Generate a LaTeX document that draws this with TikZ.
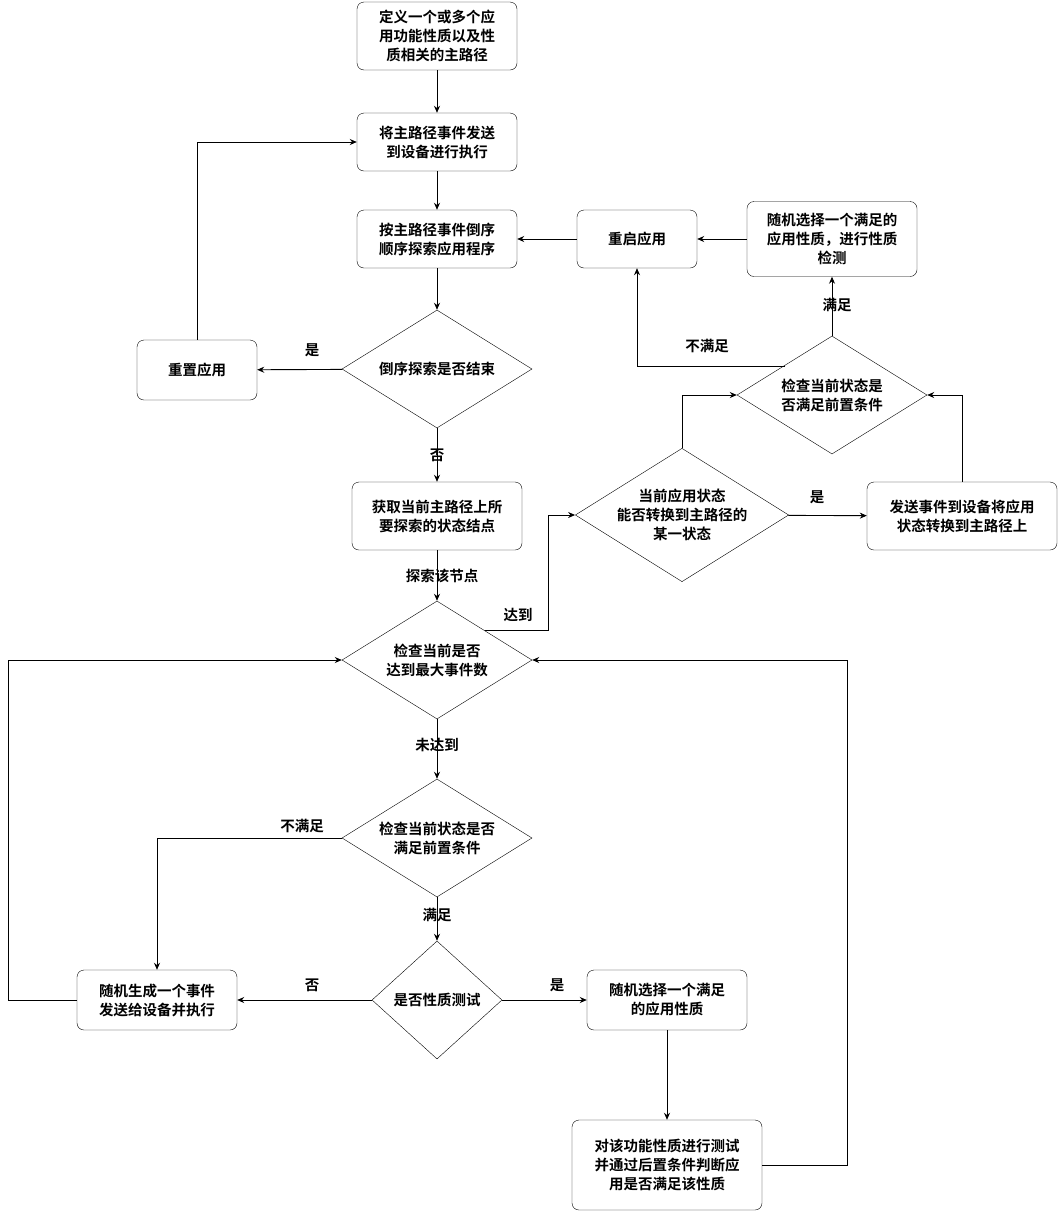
\documentclass[tikz,border=0pt]{standalone}
\usepackage{fontspec}
\setmainfont{Noto Sans CJK SC}[BoldFont={Noto Sans CJK SC Bold}]
\usetikzlibrary{shapes.geometric,arrows.meta}
\tikzset{
  box/.style={draw,rounded corners=7pt,minimum width=#1,align=center,font=\bfseries\fontsize{14.5}{19}\selectfont,inner sep=2pt},
  box/.default=160pt,
  dec/.style={draw,diamond,aspect=1.6,minimum width=190pt,minimum height=118pt,align=center,inner sep=0pt,font=\bfseries\fontsize{14.5}{19}\selectfont},
  lbl/.style={font=\bfseries\fontsize{14.5}{19}\selectfont},
  flow/.style={draw,line width=0.9pt,-{Stealth[length=7pt,width=6pt]}}
}
\begin{document}
\begin{tikzpicture}[x=1pt,y=-1pt]
\useasboundingbox (0,0) rectangle (1058,1211);
\node[box,minimum height=68pt] (def) at (437,36) {定义一个或多个应\\用功能性质以及性\\质相关的主路径};
\node[box,minimum height=58pt] (send) at (437,142) {将主路径事件发送\\到设备进行执行};
\node[box,minimum height=58pt] (rev) at (437,239) {按主路径事件倒序\\顺序探索应用程序};
\node[dec] (end) at (437,369) {倒序探索是否结束};
\node[box=120pt,minimum height=60pt] (reset) at (197,370) {重置应用};
\node[box=170pt,minimum height=68pt] (get) at (437,516) {获取当前主路径上所\\要探索的状态结点};
\node[dec] (max) at (437,660) {检查当前是否\\达到最大事件数};
\node[dec] (pre) at (437,838) {检查当前状态是否\\满足前置条件};
\node[dec,minimum width=130pt,aspect=1.1] (prop) at (437,1000) {是否性质测试};
\node[box,minimum height=60pt] (gen) at (157,1000) {随机生成一个事件\\发送给设备并执行};
\node[box,minimum height=60pt] (pick) at (667,1000) {随机选择一个满足\\的应用性质};
\node[box=190pt,minimum height=90pt] (test) at (667,1165) {对该功能性质进行测试\\并通过后置条件判断应\\用是否满足该性质};
\node[dec,minimum width=210pt,minimum height=120pt] (conv) at (682,515) {当前应用状态\\能否转换到主路径的\\某一状态};
\node[box=190pt,minimum height=68pt] (move) at (962,516) {发送事件到设备将应用\\状态转换到主路径上};
\node[dec] (pre2) at (832,395) {检查当前状态是\\否满足前置条件};
\node[box=120pt,minimum height=58pt] (restart) at (637,239) {重启应用};
\node[box=170pt,minimum height=75pt] (pick2) at (832,239) {随机选择一个满足的\\应用性质，进行性质\\检测};

\coordinate (reach) at (485,630);
\coordinate (fail) at (785,366);

\path[flow] (def) -- (send);
\path[flow] (send) -- (rev);
\path[flow] (rev) -- (end);
\path[flow] (end) -- (reset);
\path[flow] (reset.north) |- (send.west);
\path[flow] (end) -- (get);
\path[flow] (get) -- (max);
\path[flow] (reach) -- (548,630) |- (conv.west);
\path[flow] (conv) -- (move);
\path[flow] (move.north) |- (pre2.east);
\path[flow] (conv.north) |- (pre2.west);
\path[flow] (pre2) -- (pick2);
\path[flow] (fail) -| (restart.south);
\path[flow] (pick2) -- (restart);
\path[flow] (restart) -- (rev);
\path[flow] (max) -- (pre);
\path[flow] (pre.west) -| (gen.north);
\path[flow] (pre) -- (prop);
\path[flow] (prop) -- (gen);
\path[flow] (prop) -- (pick);
\path[flow] (gen.west) -- (8,1000) |- (max.west);
\path[flow] (pick) -- (test);
\path[flow] (test.east) -- (847,1165) |- (max.east);

\node[lbl] at (312,350) {是};
\node[lbl] at (437,455) {否};
\node[lbl] at (442,576) {探索该节点};
\node[lbl] at (518,615) {达到};
\node[lbl] at (817,497) {是};
\node[lbl] at (837,305) {满足};
\node[lbl] at (707,346) {不满足};
\node[lbl] at (437,745) {未达到};
\node[lbl] at (302,826) {不满足};
\node[lbl] at (437,915) {满足};
\node[lbl] at (312,985) {否};
\node[lbl] at (557,985) {是};
\end{tikzpicture}
\end{document}
